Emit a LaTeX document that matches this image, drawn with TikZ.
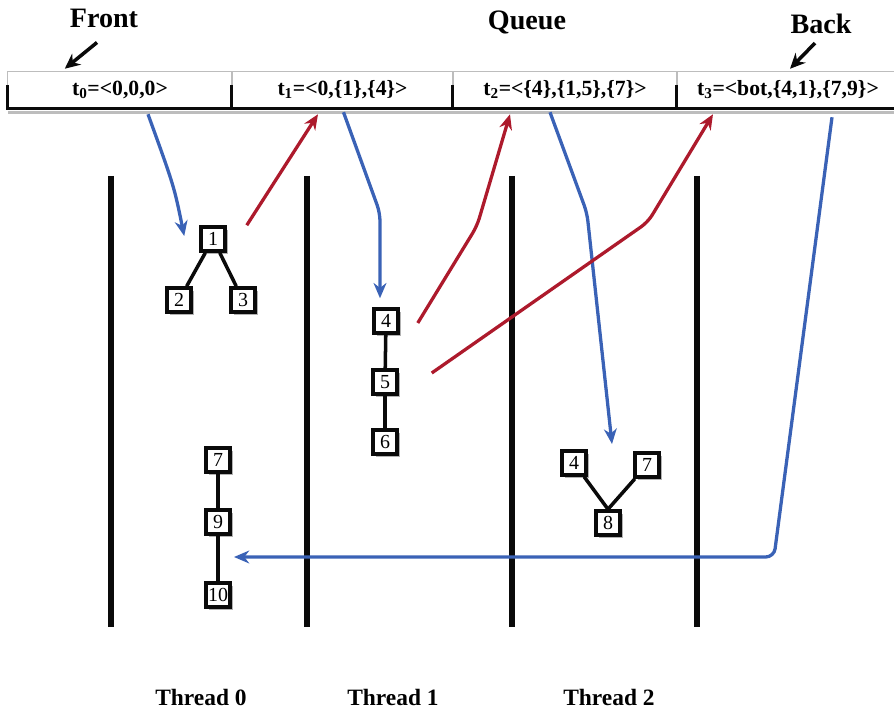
\documentclass[tikz,border=0pt]{standalone}
\usepackage{fontspec}
\setmainfont{Liberation Serif}
\usetikzlibrary{positioning, calc, arrows.meta, shadows}
\definecolor{Ink}{HTML}{0A0A0A}
\definecolor{Pull}{HTML}{3A62B6}
\definecolor{Push}{HTML}{AD1A2C}
\definecolor{Rim}{HTML}{BDBDBD}
\tikzset{
    cell/.style={minimum height=1.08cm, inner sep=0pt, font=\bfseries\fontsize{18.5}{20}\selectfont},
    tnode/.style={draw=Ink, line width=3.5pt, fill=white, minimum size=20pt, inner sep=1pt,
        font=\fontsize{17}{17}\selectfont,
        drop shadow={shadow xshift=2.5pt, shadow yshift=-2.5pt, fill=black!30, opacity=1}},
    tedge/.style={draw=Ink, line width=3pt},
    thread/.style={draw=Ink, line width=4.5pt},
    title/.style={font=\bfseries\fontsize{24}{26}\selectfont},
    label/.style={font=\bfseries\fontsize{20}{22}\selectfont},
    pointer/.style={-{Stealth[length=13pt, width=12pt]}, draw=Ink, line width=3pt},
    take/.style={-{Stealth[length=13pt, width=11pt]}, draw=Pull, line width=2.8pt, rounded corners=7pt},
    give/.style={-{Stealth[length=13pt, width=11pt]}, draw=Push, line width=2.8pt, rounded corners=7pt},
}

\begin{document}
\begin{tikzpicture}[x=0.03cm, y=-0.03cm]
    \useasboundingbox (0,0) rectangle (894,711);

    % queue cells
    \node[cell, minimum width=6.72cm] (q0) at (120,90) {t\textsubscript{0}=<0,0,0>};
    \node[cell, minimum width=6.63cm] (q1) at (342.5,90) {t\textsubscript{1}=<0,\{1\},\{4\}>};
    \node[cell, minimum width=6.72cm] (q2) at (565,90) {t\textsubscript{2}=<\{4\},\{1,5\},\{7\}>};
    \node[cell, minimum width=6.66cm] (q3) at (788,90) {t\textsubscript{3}=<bot,\{4,1\},\{7,9\}>};
    \foreach \c in {q0,q1,q2,q3} {
        \draw[Rim, line width=0.8pt] (\c.south west) rectangle (\c.north east);
        \draw[Rim, line width=2.5pt] ($(\c.south west)+(0,4.5)$) -- ($(\c.south east)+(0,4.5)$);
        \draw[Ink, line width=2.6pt] ($(\c.west)+(0,-5)$) |- (\c.south east);
    }

    % titles
    \node[title] (front) at (104,18) {Front};
    \node[title] (queue) at (527,22) {Queue};
    \node[title] (back) at (821,24) {Back};
    \draw[pointer] ($(front.south)+(-7,11)$) -- ($(q0.north west)+(57,-3)$);
    \draw[pointer] ($(back.south)+(-6,5)$) -- ($(q3.north)+(2,-3)$);

    % threads
    \foreach \x in {111,307,512,697}
        \draw[thread] (\x,176) -- (\x,627);
    \node[label] (th0) at (201,697) {Thread 0};
    \node[label] (th1) at (393,697) {Thread 1};
    \node[label] (th2) at (609,697) {Thread 2};

    % thread 0
    \node[tnode] (n1) at (213,239) {1};
    \node[tnode] (n2) at (179,300) {2};
    \node[tnode] (n3) at (243,300) {3};
    \node[tnode] (n7) at (218,460) {7};
    \node[tnode] (n9) at (218,522) {9};
    \node[tnode] (n10) at (218,595) {10};
    % thread 1
    \node[tnode] (n4) at (386,321) {4};
    \node[tnode] (n5) at (385,382) {5};
    \node[tnode] (n6) at (385,442) {6};
    % thread 2
    \node[tnode] (m4) at (574,463) {4};
    \node[tnode] (m7) at (647,465) {7};
    \node[tnode] (m8) at (608,523) {8};

    \draw[tedge] (n1) -- (n2);
    \draw[tedge] (n1) -- (n3);
    \draw[tedge] (n7) -- (n9);
    \draw[tedge] (n9) -- (n10);
    \draw[tedge] (n4) -- (n5);
    \draw[tedge] (n5) -- (n6);
    \draw[tedge] (m4) -- (m8.north);
    \draw[tedge] (m7) -- (m8.north);

    % bends
    \coordinate (b1) at (380,213);
    \coordinate (b2) at (587,213);
    \coordinate (b3) at (774,557);
    \coordinate (r2) at (477,226);
    \coordinate (r3) at (648,222);
    \coordinate (tip2) at (612,444);
    \coordinate (tip4) at ($($(n9)!0.5!(n10)$)+(16,-1.5)$);

    % taking from the queue
    \draw[take] ($(q0.south)+(28,6)$) .. controls (174,186) .. ($(n1.west)+(-15,-3)$);
    \draw[take] ($(q1.south)+(1,4)$) -- (b1) -- ($(n4.north)+(-6,-9)$);
    \draw[take] ($(q2.south)+(-15,4)$) -- (b2) -- (tip2);
    \draw[take] ($(q3.south)+(44,9)$) -- (b3) -- (tip4);

    % giving back to the queue
    \draw[give] ($(n1.north east)+(20,0)$) -- ($(q1.south)+(-24.5,6)$);
    \draw[give] ($(n4.east)+(18,2)$) -- (r2) -- ($(q2.south)+(-55,6)$);
    \draw[give] ($(n5.east)+(33,-9)$) -- (r3) -- ($(q3.south)+(-75,6)$);
\end{tikzpicture}
\end{document}
